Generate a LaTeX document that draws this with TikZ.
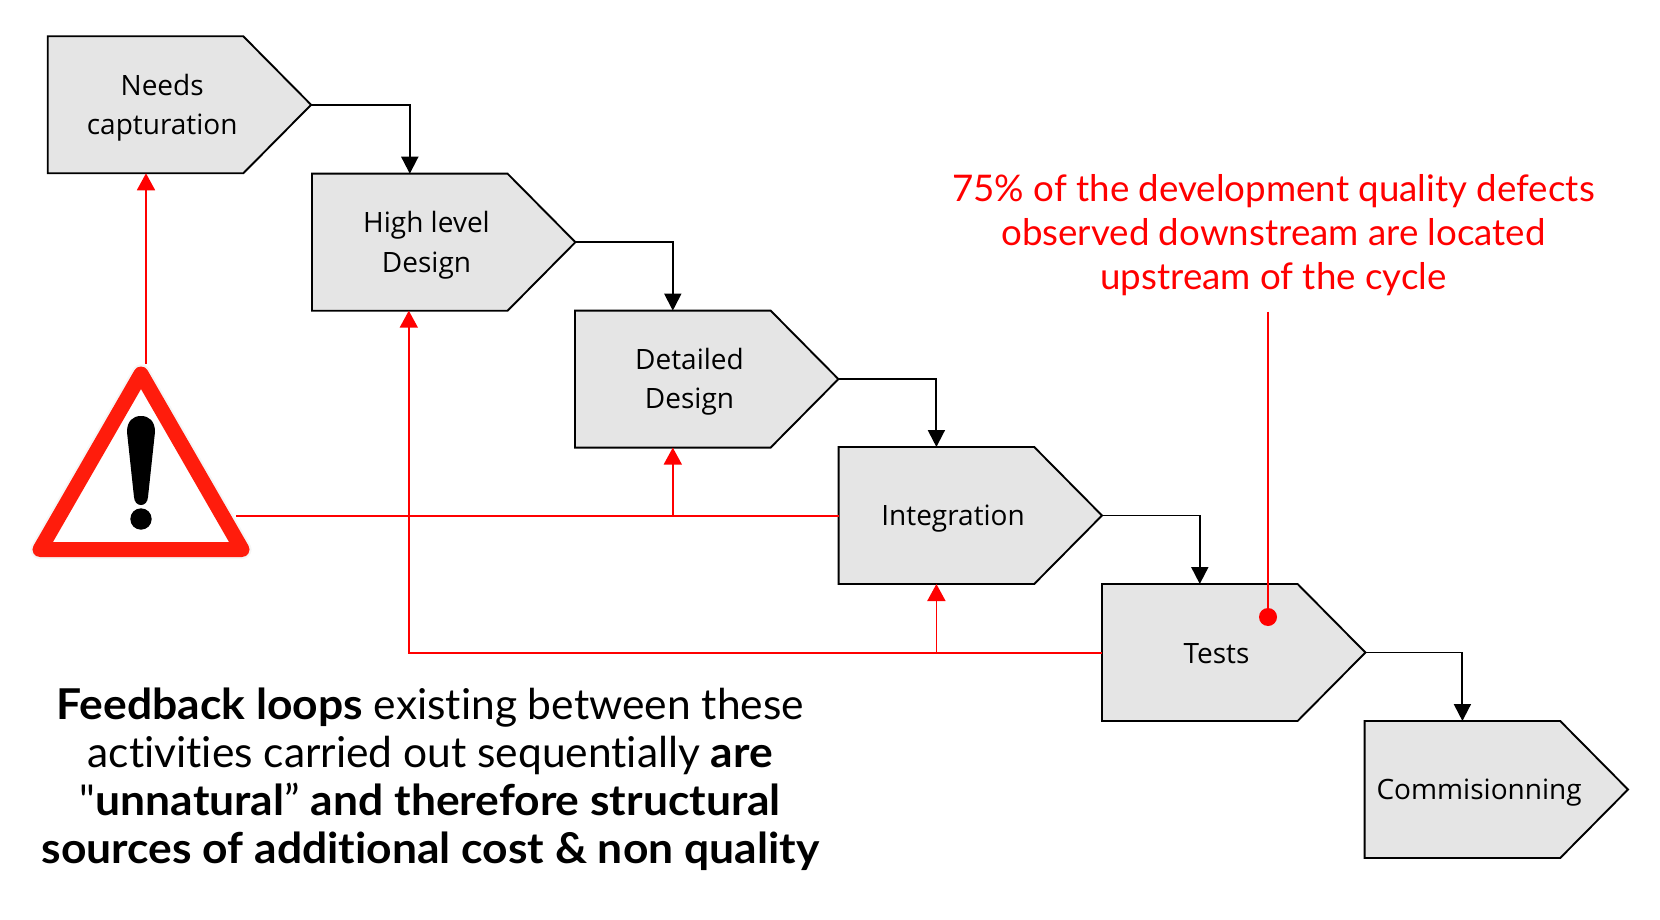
\documentclass[tikz,border=0pt]{standalone}
\usepackage{fontspec}
\setmainfont{Lato}
\newfontfamily\boxfont{Open Sans}
\newfontfamily\talkfont[Ligatures=CommonOff,BoldFeatures={FakeStretch=1.045}]{Lato}
\usetikzlibrary{arrows.meta,calc}
\definecolor{warnred}{RGB}{255,28,12}
\definecolor{boxgrey}{RGB}{229,229,229}
\tikzset{
  stagebody/.style={minimum width=195.6pt,minimum height=137pt,inner sep=0pt,outer sep=0pt},
  stageshape/.style={draw=black,fill=boxgrey,line width=1.9pt,line join=miter},
  stagetext/.style={font=\boxfont\fontsize{28}{39.5}\selectfont,align=center,inner sep=0pt},
  flowarrow/.style={draw=black,line width=1.9pt,-{Triangle[width=17pt,length=17pt]}},
  feedarrow/.style={draw=red,line width=1.8pt,-{Triangle[width=18pt,length=17pt]}},
  feedline/.style={draw=red,line width=1.8pt},
}
\newcommand{\stage}[4]{%
  \node[stagebody] (#1) at (#2+97.8,#3+68.5) {};
  \coordinate (#1tip) at ($(#1.east)+(67.8pt,0pt)$);
  \draw[stageshape] (#1.north west) -- (#1.north east) -- (#1tip) -- (#1.south east) -- (#1.south west) -- cycle;
  \node[stagetext] (#1label) at ($(#1.center)+(16.7pt,-1pt)$) {\rule{0pt}{25pt}#4\rule[-5pt]{0pt}{5pt}};
}
\begin{document}
\begin{tikzpicture}[x=1pt,y=-1pt]
\useasboundingbox (0,0) rectangle (1660,920);

\stage{needs}{47.7}{36.3}{Needs\\capturation}
\stage{high}{312}{173.7}{High level\\Design}
\stage{detail}{575}{310.6}{Detailed\\Design}
\stage{integ}{838.6}{447}{Integration}
\stage{tests}{1102}{584}{Tests}
\stage{comm}{1364.6}{721}{Commisionning}

\draw[flowarrow] (needstip) -| (high.north);
\draw[flowarrow] (hightip) -| (detail.north);
\draw[flowarrow] (detailtip) -| (integ.north);
\draw[flowarrow] (integtip) -| (tests.north);
\draw[flowarrow] (teststip) -| (comm.north);

% warning sign
\draw[draw=black!4,line width=19pt,line join=round] (141,374) -- (242,549.5) -- (40,549.5) -- cycle;
\draw[draw=warnred,fill=white,line width=15pt,line join=round] (141,374) -- (242,549.5) -- (40,549.5) -- cycle;
\fill[black] (127,432) .. controls (127,421) and (133,416) .. (141,416)
  .. controls (149,416) and (155,421) .. (155,432)
  -- (148,497) .. controls (147.5,502) and (145,505) .. (141,505)
  .. controls (137,505) and (134.5,502) .. (134,497) -- cycle;
\fill[black] (141,519) circle[radius=10.7pt];
\coordinate (warntop) at (146,364);
\coordinate (warnright) at (236,515.9);

% feedback
\draw[feedarrow] (warntop) -- (needs.south -| warntop);
\draw[feedline] (warnright) -- (warnright -| integ.west);
\draw[feedarrow] (integ.west) -| (detail.south);
\draw[feedarrow] ([yshift=-0.3pt]tests.west) -| ([xshift=-1pt]high.south);
\coordinate (testsjoin) at (1057,653);
\draw[feedarrow] (testsjoin) -| (integ.south);

% callout
\node[font=\talkfont\fontsize{36.7}{44}\selectfont,text=red,align=center,inner sep=0pt] (note) at (1273.5,235.5)
  {75\% of the development quality defects\\observed downstream are located\\upstream of the cycle};
\coordinate (notefoot) at (1268,311.5);
\fill[red] (1268,617) circle[radius=9pt] coordinate (notedot);
\draw[feedline] (notefoot) -- (notedot);

% statement
\node[font=\talkfont\fontsize{42.5}{48}\selectfont,align=center,inner sep=0pt] (claim) at (430.4,779.5)
  {\textbf{Feedback loops} existing between these\\activities carried out sequentially \textbf{are}\\"\textbf{unnatural}” \textbf{and therefore structural}\\\textbf{sources of additional cost \& non quality}};
\end{tikzpicture}
\end{document}
